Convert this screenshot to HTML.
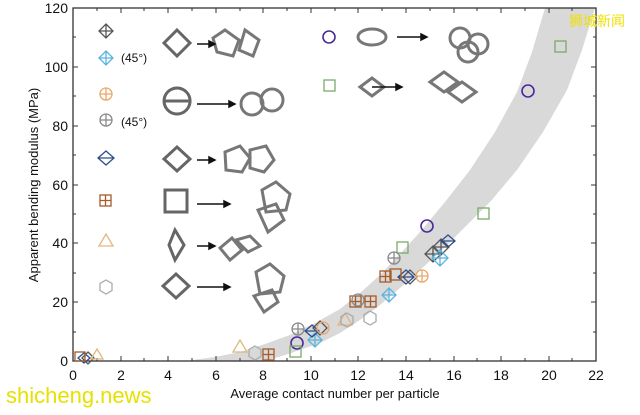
<!DOCTYPE html>
<html><head><meta charset="utf-8"><style>
body{margin:0;background:#fff;width:640px;height:410px;overflow:hidden;font-family:"Liberation Sans",sans-serif}
</style></head><body>
<svg width="640" height="410" viewBox="0 0 640 410" xmlns="http://www.w3.org/2000/svg" font-family="Liberation Sans, sans-serif">
<rect width="640" height="410" fill="#fff"/>
<!-- band -->
<path d="M185,361 L215,357 240,352 265,344 290,335 315,323 340,309 360,293 380,275 400,254 420,232 445,202 470,170 495,132 517,92 532,52 545,8 L595,8 582,50 567,90 543,132 517,170 490,202 460,232 440,252 420,270 400,288 380,305 360,320 340,333 320,343 300,350 282,356 265,361 Z" fill="#d9d9d9"/>
<!-- axes -->
<rect x="73" y="8" width="523" height="353" fill="none" stroke="#333" stroke-width="1.3"/>
<g stroke="#333" stroke-width="1">
<path d="M73,361v-5M97,361v-3M121,361v-5M144,361v-3M168,361v-5M192,361v-3M216,361v-5M240,361v-3M263,361v-5M287,361v-3M311,361v-5M335,361v-3M358,361v-5M382,361v-3M406,361v-5M430,361v-3M454,361v-5M477,361v-3M501,361v-5M525,361v-3M549,361v-5M572,361v-3"/>
<path d="M73,8v5M97,8v3M121,8v5M144,8v3M168,8v5M192,8v3M216,8v5M240,8v3M263,8v5M287,8v3M311,8v5M335,8v3M358,8v5M382,8v3M406,8v5M430,8v3M454,8v5M477,8v3M501,8v5M525,8v3M549,8v5M572,8v3"/>
<path d="M73,361h5M73,332h3M73,302h5M73,273h3M73,243h5M73,214h3M73,185h5M73,155h3M73,126h5M73,96h3M73,67h5M73,37h3M73,8h5"/>
<path d="M596,361h-5M596,332h-3M596,302h-5M596,273h-3M596,243h-5M596,214h-3M596,185h-5M596,155h-3M596,126h-5M596,96h-3M596,67h-5M596,37h-3"/>
</g>
<g font-size="14" fill="#111" text-anchor="end">
<text x="68" y="366">0</text><text x="68" y="307">20</text><text x="68" y="248">40</text><text x="68" y="190">60</text><text x="68" y="131">80</text><text x="68" y="72">100</text><text x="68" y="13">120</text>
</g>
<g font-size="14" fill="#111" text-anchor="middle">
<text x="73" y="380">0</text><text x="121" y="380">2</text><text x="168" y="380">4</text><text x="216" y="380">6</text><text x="263" y="380">8</text><text x="311" y="380">10</text><text x="358" y="380">12</text><text x="406" y="380">14</text><text x="454" y="380">16</text><text x="501" y="380">18</text><text x="549" y="380">20</text><text x="596" y="380">22</text>
</g>
<text x="335" y="398" font-size="13" text-anchor="middle" fill="#111">Average contact number per particle</text>
<text transform="translate(38,185) rotate(-90)" font-size="13" text-anchor="middle" fill="#111">Apparent bending modulus (MPa)</text>
<!-- legend -->
<g fill="none" stroke-width="1.3">
<path d="M106,24 l7,7 -7,7 -7,-7z M106,24v14M99,31h14" stroke="#555"/>
<path d="M106,51 l7,7 -7,7 -7,-7z M106,51v14M99,58h14" stroke="#5ab4e0"/>
<circle cx="106" cy="94" r="6" stroke="#e8a868"/><path d="M106,88v12M100,94h12" stroke="#e8a868"/>
<circle cx="106" cy="120" r="6" stroke="#888"/><path d="M106,114v12M100,120h12" stroke="#888"/>
<path d="M106,151 l8,7 -8,7 -8,-7z M98,158h16" stroke="#2c4f8a"/>
<rect x="100" y="195" width="11" height="11" stroke="#a55a28"/><path d="M105.5,195v11M100,200.5h11" stroke="#a55a28"/>
<path d="M106,234 l7,12 h-14z" stroke="#e0b880"/>
<path d="M106,280 l6,3.5v7l-6,3.5-6,-3.5v-7z" stroke="#aaa"/>
<circle cx="329" cy="37" r="6" stroke="#4a2a9a" stroke-width="1.6"/>
<rect x="324" y="80" width="11" height="11" stroke="#7aaa6a"/>
</g>
<g font-size="12" fill="#111"><text x="121" y="62">(45°)</text><text x="121" y="126">(45°)</text></g>
<!-- icons -->
<g fill="none" stroke="#666" stroke-width="3">
<path d="M177,30 l13,13 -13,13 -13,-13z"/><path d="M177,88 a13,13 0 1,0 0.1,0z M164,101h26"/>
<path d="M177,147 l13,12 -13,12 -13,-12z"/><rect x="165" y="190" width="22" height="22"/>
<path d="M175,230 l9,15 -9,15 -6,-15z"/><path d="M176,274 l13,12 -13,12 -13,-12z"/>
<path d="M225,30l14,10-6,16-16-4-4-14zM245,30l14,10-6,16-14-6z" stroke="#777"/>
<circle cx="252" cy="104" r="11" stroke="#777"/><circle cx="272" cy="100" r="11" stroke="#777"/>
<path d="M225,152l15-6 10,12-8,14-16-2zM250,150l16-4 8,14-10,12-14-4z" stroke="#777"/>
<path d="M262,190l14-8 14,12-4,16-20,2zM258,210l18-6 8,16-16,12z" stroke="#777"/>
<path d="M220,248l12-10 10,12-12,10zM236,240l14-4 10,10-12,6z" stroke="#777"/>
<path d="M256,272l14-8 14,12-4,16-20,2zM254,296l18-6 6,12-14,10z" stroke="#777"/>
<ellipse cx="372" cy="37" rx="14" ry="8" stroke="#777"/>
<circle cx="460" cy="38" r="10" stroke="#777"/><circle cx="478" cy="44" r="10" stroke="#777"/><circle cx="468" cy="52" r="10" stroke="#777"/>
<path d="M360,87l12-9 12,9-12,9z" stroke="#777"/>
<path d="M430,82l14-10 14,10-14,10zM448,92l14-10 14,10-14,10z" stroke="#777"/>
</g>
<g stroke="#111" stroke-width="1.5" fill="#111">
<path d="M197,44h18"/><path d="M215,44l-6,-3v6z"/>
<path d="M197,104h38"/><path d="M235,104l-6,-3v6z"/>
<path d="M197,160h18"/><path d="M215,160l-6,-3v6z"/>
<path d="M197,204h33"/><path d="M230,204l-6,-3v6z"/>
<path d="M197,246h18"/><path d="M215,246l-6,-3v6z"/>
<path d="M197,287h33"/><path d="M230,287l-6,-3v6z"/>
<path d="M397,37h30"/><path d="M427,37l-6,-3v6z"/>
<path d="M372,87h30"/><path d="M402,87l-6,-3v6z"/>
</g>
<!-- data -->
<g fill="none" stroke-width="1.3">
<circle cx="528" cy="91" r="6" stroke="#4a2a9a" stroke-width="1.6"/>
<circle cx="427" cy="226" r="6" stroke="#4a2a9a" stroke-width="1.6"/>
<circle cx="297" cy="343" r="6" stroke="#4a2a9a" stroke-width="1.6"/>
<rect x="555" y="41" width="11" height="11" stroke="#7aaa6a"/>
<rect x="478" y="208" width="11" height="11" stroke="#7aaa6a"/>
<rect x="397" y="242" width="11" height="11" stroke="#7aaa6a"/>
<rect x="290" y="346" width="11" height="11" stroke="#7aaa6a"/>
<g stroke="#555"><path d="M441,239l8,8-8,8-8-8zM441,239v16M433,247h16"/><path d="M433,246l8,8-8,8-8-8zM433,246v16M425,254h16"/><path d="M320,321l7,7-7,7-7-7z"/><path d="M410,270l7,7-7,7-7-7z"/><path d="M88,352l6,6-6,6-6-6z"/></g>
<g stroke="#5ab4e0"><path d="M440,250l8,8-8,8-8-8zM440,250v16M432,258h16"/><path d="M389,288l7,7-7,7-7-7zM389,288v14M382,295h14"/><path d="M315,333l7,7-7,7-7-7zM315,333v14M308,340h14"/></g>
<g stroke="#2c4f8a"><path d="M406,270l8,7-8,7-8-7zM398,277h16"/><path d="M312,325l7,6-7,6-7-6zM305,331h14"/><path d="M448,235l7,6-7,6-7-6zM441,241h14"/><path d="M84,353l6,5-6,5-6-5z"/></g>
<g stroke="#a55a28"><rect x="380" y="271" width="11" height="11"/><rect x="390" y="269" width="11" height="11"/><rect x="350" y="296" width="11" height="11"/><rect x="365" y="296" width="11" height="11"/><rect x="263" y="349" width="11" height="11"/><rect x="75" y="352" width="10" height="9"/><path d="M385.5,271v11M380,276.5h11M355.5,296v11M350,301.5h11M370.5,296v11M365,301.5h11M268.5,349v11M263,354.5h11"/></g>
<g stroke="#e8a868"><circle cx="422" cy="276" r="6"/><circle cx="323" cy="328" r="6"/><path d="M422,270v12M416,276h12"/></g>
<g stroke="#888"><circle cx="394" cy="258" r="6"/><circle cx="298" cy="329" r="6"/><circle cx="358" cy="300" r="6"/><path d="M394,252v12M388,258h12M298,323v12M292,329h12"/></g>
<g stroke="#e0b880"><path d="M240,340l7,12h-14z"/><path d="M97,349l6,10h-12z"/><path d="M345,313l7,12h-14z"/></g>
<g stroke="#aaa"><path d="M370,311l6,3.5v7l-6,3.5-6,-3.5v-7z"/><path d="M347,313l6,3.5v7l-6,3.5-6,-3.5v-7z"/><path d="M255,346l6,3.5v7l-6,3.5-6,-3.5v-7z"/></g>
</g>
<text x="597" y="26" font-size="14" fill="#f0e000" font-family="Noto Sans CJK SC, sans-serif" text-anchor="middle">狮城新闻</text>
<text x="6" y="403" font-size="22" fill="#e8e000">shicheng.news</text>
</svg>
</body></html>
